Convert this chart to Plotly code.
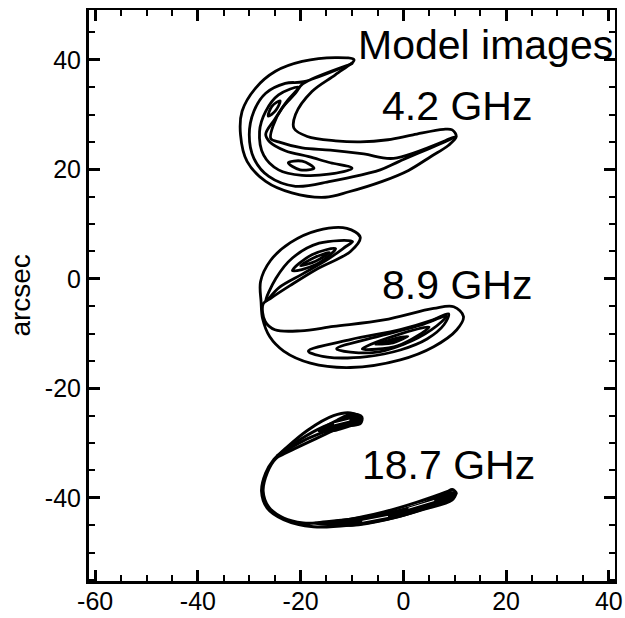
import plotly.graph_objects as go

# ---------------- axis / tick data ----------------
X_RANGE = [-61.2, 41.2]
Y_RANGE = [-55.2, 49.1]
X_TICKS = [-60, -40, -20, 0, 20, 40]
X_TICKTEXT = ["-60", "-40", "-20", "0", "20", "40"]
Y_TICKS = [-40, -20, 0, 20, 40]
Y_TICKTEXT = ["-40", "-20", "0", "20", "40"]
Y_TITLE = "arcsec"

# ---------------- labels ----------------
LABELS = ["Model images", "4.2 GHz", "8.9 GHz", "18.7 GHz"]
LABEL_X = [-9.2, -4.6, -4.6, -8.5]
LABEL_Y = [42.7, 31.5, -1.1, -34.0]

# ---------------- 4.2 GHz contours (arcsec) ----------------
S1_C1_X = [-9.6, -13.2, -19.7, -24.9, -28.8, -31.4, -31.7, -30.4, -26.8, -21.7, -15.2, -10.6, -4.1, 1.0, 5.3, 8.8,
           10.3, 9.5, 7.8, 1.9, -3.0, -8.4, -13.2, -18.7, -21.3, -21.0, -17.8, -13.2, -9.6]
S1_C1_Y = [40.0, 40.4, 39.7, 37.9, 34.8, 30.6, 26.3, 21.4, 17.8, 15.7, 14.9, 15.9, 17.8, 19.8, 22.3, 24.4,
           26.0, 27.2, 27.3, 26.3, 25.4, 25.0, 25.2, 26.0, 27.5, 30.0, 34.2, 37.3, 40.0]
S1_C2_X = [-10.0, -19.4, -23.0, -26.8, -29.1, -30.0, -29.1, -26.2, -21.0, -14.2, -11.0, -4.5, -0.9, 10.0, -1.9,
           -7.7, -14.2, -19.7, -24.3, -25.8, -25.3, -23.6, -21.0, -19.6, -10.0]
S1_C2_Y = [39.3, 36.0, 35.7, 33.9, 30.6, 26.3, 22.0, 18.7, 16.9, 17.8, 18.4, 19.9, 21.4, 25.9, 22.0,
           22.8, 23.5, 23.9, 25.0, 25.6, 28.1, 31.2, 33.9, 35.6, 39.3]
S1_C3_X = [-20.4, -24.3, -26.8, -28.0, -27.2, -24.3, -19.7, -14.5, -10.0, -14.2, -18.4, -23.0, -26.0, -26.8,
           -25.0, -22.6, -20.4]
S1_C3_Y = [35.0, 33.6, 30.6, 26.9, 22.6, 19.9, 18.9, 19.1, 20.2, 21.2, 22.3, 23.4, 25.0, 26.4,
           29.2, 32.5, 35.0]
S1_C4_X = [-26.3, -25.6, -24.0, -24.8, -26.3]
S1_C4_Y = [29.7, 31.5, 32.5, 30.8, 29.7]
S1_C5_X = [-22.4, -19.7, -17.4, -20.1, -22.4]
S1_C5_Y = [21.2, 21.5, 20.2, 19.9, 21.2]

# ---------------- 8.9 GHz contours ----------------
S2_C1_X = [-8.4, -11.0, -16.8, -22.0, -25.9, -27.8, -27.7, -27.4, -26.0, -23.3, -18.1, -10.3, -0.6, 5.9, 10.4,
           11.7, 9.8, 5.9, -3.8, -13.6, -20.0, -25.0, -26.9, -27.3, -25.9, -22.0, -16.8, -10.3, -8.4]
S2_C1_Y = [7.6, 9.2, 8.8, 6.6, 3.3, -0.5, -4.2, -7.3, -10.6, -13.2, -15.4, -16.2, -14.8, -12.4, -9.3,
           -6.9, -5.1, -5.4, -7.5, -8.7, -9.5, -9.3, -7.8, -4.6, -3.6, -1.2, 1.8, 5.0, 7.6]
S2_C2_X = [-9.9, -16.4, -21.6, -24.8, -26.8, -24.2, -19.6, -14.5, -11.2, -9.9]
S2_C2_Y = [6.8, 6.5, 3.8, 0.1, -4.1, -1.6, 0.9, 3.7, 5.9, 6.8]
S2_C3_X = [-21.6, -17.8, -13.2, -17.0, -21.6]
S2_C3_Y = [1.5, 4.4, 5.5, 2.6, 1.5]
S2_C4_X = [-20.0, -17.3, -14.4, -17.1, -20.0]
S2_C4_Y = [2.4, 3.9, 4.8, 3.2, 2.4]
S2_C5_X = [-18.5, -10.3, -0.6, 5.5, 8.8, 7.9, 4.6, -0.6, -7.1, -14.8, -18.5]
S2_C5_Y = [-13.2, -11.1, -9.3, -7.6, -6.4, -8.4, -11.0, -13.0, -14.2, -14.3, -13.2]
S2_C6_X = [-13.0, -4.0, 3.5, 8.4, 5.5, 0.0, -6.0, -13.0]
S2_C6_Y = [-12.8, -10.3, -8.4, -6.8, -9.3, -12.0, -13.5, -12.8]
S2_C7_X = [-8.0, -1.0, 5.0, -1.0, -8.0]
S2_C7_Y = [-12.8, -10.2, -8.8, -12.2, -12.8]
S2_CORE_X = [-5.5, -2.0, 1.0, -2.0, -5.5]
S2_CORE_Y = [-12.0, -10.9, -10.5, -11.8, -12.0]

# ---------------- 18.7 GHz contours ----------------
S3_C1_X = [-8.3, -10.3, -13.6, -18.7, -23.3, -25.2, -26.8, -27.6, -26.5, -23.3, -17.5, -10.3, -2.5, 3.9, 9.1,
           10.3, 9.5, 8.5, 2.7, -3.8, -10.3, -16.8, -19.5, -23.3, -26.2, -27.3, -26.5, -24.8, -23.3, -16.8,
           -11.6, -9.0, -8.3]
S3_C1_Y = [-25.4, -24.5, -25.0, -27.7, -31.3, -33.0, -35.5, -38.8, -41.9, -44.0, -45.3, -45.0, -43.8, -42.0, -40.0,
           -39.2, -38.5, -38.9, -40.8, -42.6, -43.9, -44.6, -44.6, -43.7, -41.7, -38.8, -35.4, -32.8, -32.0, -29.1,
           -26.9, -26.4, -25.4]
S3_C2_X = [-24.6, -20.0, -15.5, -11.0]
S3_C2_Y = [-32.4, -29.3, -27.0, -25.5]
S3_C3_X = [-24.6, -19.5, -15.0, -11.0]
S3_C3_Y = [-32.4, -29.6, -27.8, -26.4]
S3_BLOB1_X = [-16.5, -13.0, -10.0, -8.0, -8.3, -10.5, -13.5, -16.5]
S3_BLOB1_Y = [-27.8, -25.8, -24.6, -25.2, -26.5, -27.0, -27.8, -27.8]
S3_BLOB2_X = [-17.5, -10.0, -2.5, 4.0, 8.5, 10.2, 9.5, 4.0, -2.5, -10.0, -17.5]
S3_BLOB2_Y = [-44.6, -43.8, -42.6, -40.9, -39.0, -39.3, -40.5, -42.2, -43.9, -45.1, -44.6]
S3_SLIT1_X = [-13.5, -10.5]
S3_SLIT1_Y = [-26.5, -25.8]
S3_SLIT2_X = [1.0, 6.0]
S3_SLIT2_Y = [-41.9, -40.5]
S3_SLIT3_X = [-8.0, -3.0]
S3_SLIT3_Y = [-44.3, -43.4]

LINE_W = 2.8
FONT = "Liberation Sans, Arial, sans-serif"

fig = go.Figure()


def add_line(xs, ys, width=LINE_W, color="black", fill=False):
    fig.add_trace(go.Scatter(
        x=xs, y=ys, mode="lines",
        line=dict(color=color, width=width, shape="spline", smoothing=1.0),
        fill="toself" if fill else None,
        fillcolor=color if fill else None,
        hoverinfo="skip", showlegend=False,
    ))


for xs, ys in [(S1_C1_X, S1_C1_Y), (S1_C2_X, S1_C2_Y), (S1_C3_X, S1_C3_Y),
               (S1_C4_X, S1_C4_Y), (S1_C5_X, S1_C5_Y),
               (S2_C1_X, S2_C1_Y), (S2_C2_X, S2_C2_Y), (S2_C3_X, S2_C3_Y), (S2_C4_X, S2_C4_Y),
               (S2_C5_X, S2_C5_Y), (S2_C6_X, S2_C6_Y), (S2_C7_X, S2_C7_Y)]:
    add_line(xs, ys)

for xs, ys in [(S3_C1_X, S3_C1_Y), (S3_C2_X, S3_C2_Y), (S3_C3_X, S3_C3_Y)]:
    add_line(xs, ys, width=3)

add_line(S2_CORE_X, S2_CORE_Y, width=1.5, fill=True)
add_line(S3_BLOB1_X, S3_BLOB1_Y, width=2, fill=True)
add_line(S3_BLOB2_X, S3_BLOB2_Y, width=2, fill=True)
for xs, ys in [(S3_SLIT1_X, S3_SLIT1_Y), (S3_SLIT2_X, S3_SLIT2_Y), (S3_SLIT3_X, S3_SLIT3_Y)]:
    add_line(xs, ys, width=1, color="white")

# invisible trace to activate the mirrored (top/right) axes
fig.add_trace(go.Scatter(x=[X_RANGE[0]], y=[Y_RANGE[0]], xaxis="x2", yaxis="y2",
                         mode="markers", marker=dict(opacity=0), hoverinfo="skip", showlegend=False))

for txt, lx, ly in zip(LABELS, LABEL_X, LABEL_Y):
    fig.add_annotation(x=lx, y=ly, xref="x", yref="y", text=txt, showarrow=False,
                       xanchor="left", yanchor="middle", font=dict(family=FONT, size=41, color="black"))

fig.add_annotation(x=-0.131, y=0.50, xref="paper", yref="paper", text=Y_TITLE, textangle=-90,
                   showarrow=False, xanchor="center", yanchor="middle",
                   font=dict(family=FONT, size=28, color="black"))

minor = dict(ticks="inside", ticklen=6, tickwidth=2, tickcolor="black", tickmode="linear",
             tick0=0, dtick=5, showgrid=False)
common = dict(showgrid=False, zeroline=False, ticks="inside", ticklen=11, tickwidth=2.5,
              tickcolor="black", linecolor="black", showline=True, minor=minor, automargin=False)

fig.update_layout(
    width=625, height=618,
    margin=dict(l=89, r=10, t=10, b=37),
    paper_bgcolor="white", plot_bgcolor="white",
    font=dict(family=FONT, color="black"),
    xaxis=dict(range=X_RANGE, tickmode="array", tickvals=X_TICKS, ticktext=X_TICKTEXT,
               linewidth=3, tickfont=dict(size=25), ticklabelstandoff=-4, **common),
    yaxis=dict(range=Y_RANGE, tickmode="array", tickvals=Y_TICKS, ticktext=Y_TICKTEXT,
               linewidth=3, tickfont=dict(size=25), **common),
    xaxis2=dict(range=X_RANGE, overlaying="x", side="top", anchor="y", tickmode="array",
                tickvals=X_TICKS, showticklabels=False, linewidth=2, **common),
    yaxis2=dict(range=Y_RANGE, overlaying="y", side="right", anchor="x", tickmode="array",
                tickvals=Y_TICKS, showticklabels=False, linewidth=2, **common),
)

fig.write_html("out.html")
